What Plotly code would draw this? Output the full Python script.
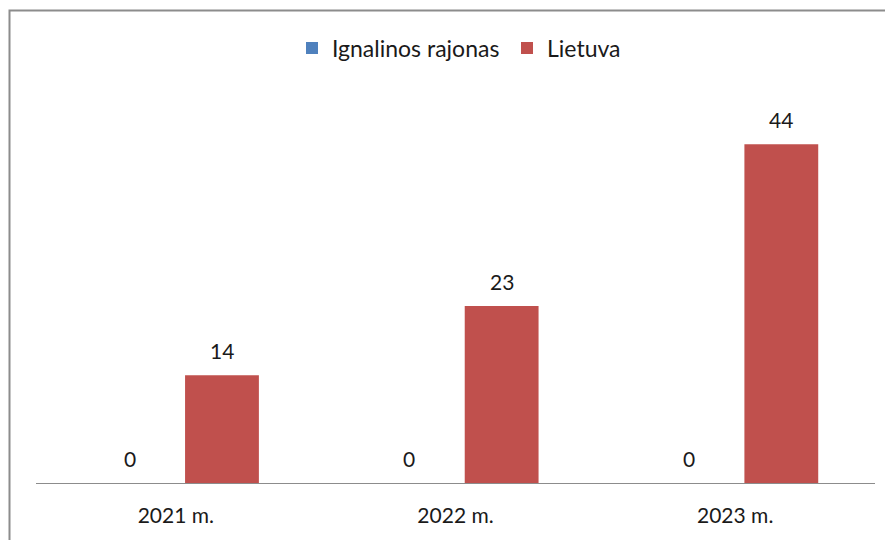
import plotly.graph_objects as go

# data
years = ["2021 m.", "2022 m.", "2023 m."]
ignalinos = [0, 0, 0]
lietuva = [14, 23, 44]
series_names = ["Ignalinos rajonas", "Lietuva"]

BLUE = "#4F81BD"
RED = "#C0504D"
FONT = "Lato"
FS = 21

# the page has an 8px body margin, so the figure is 8px smaller
OFF = 8
W, H = 893 - OFF, 540 - OFF
L, R, T, B = 36 - OFF, 18, 98 - OFF, 57
pw, ph = W - L - R, H - T - B

fig = go.Figure()
fig.add_trace(go.Bar(x=years, y=ignalinos, name=series_names[0],
                     marker=dict(color=BLUE, line=dict(width=0))))
fig.add_trace(go.Bar(x=years, y=lietuva, name=series_names[1],
                     marker=dict(color=RED, line=dict(width=0))))

# value labels above bars, Excel style
slot = pw / len(years) * (1 - 0.34) / 2
for vals, side in [(ignalinos, -1), (lietuva, 1)]:
    for yr, v in zip(years, vals):
        fig.add_annotation(x=yr, y=v, text=str(v), showarrow=False,
                           xshift=side * slot / 2, yshift=10, yanchor="bottom",
                           font=dict(family=FONT, size=FS, color="#1a1a1a"))

# chart border (crop of a bigger bordered chart)
bx = (9.5 - OFF - L) / pw
by = (H - B - (10.5 - OFF)) / ph
fig.add_shape(type="rect", xref="paper", yref="paper",
              x0=bx, x1=1.5, y0=-1, y1=by,
              line=dict(color="#8c8c8c", width=2))

# legend left edge in page pixels
leg_left = 306 - 14

fig.update_layout(
    width=W, height=H,
    barmode="group", bargap=0.34, bargroupgap=0.2,
    plot_bgcolor="white", paper_bgcolor="white",
    margin=dict(l=L, r=R, t=T, b=B),
    font=dict(family=FONT, size=FS, color="#1a1a1a"),
    showlegend=True,
    legend=dict(orientation="h", x=(leg_left - OFF - L) / pw, xanchor="left",
                y=(H - B - (48 - OFF)) / ph,
                yanchor="middle", font=dict(size=23), itemwidth=30,
                entrywidth=170, traceorder="normal"),
    xaxis=dict(showline=True, linecolor="#8c8c8c", linewidth=1, ticks="",
               showgrid=False, tickfont=dict(size=FS), ticklabelstandoff=14),
    yaxis=dict(range=[0, 50], visible=False, showgrid=False),
)

fig.write_html("out.html")
